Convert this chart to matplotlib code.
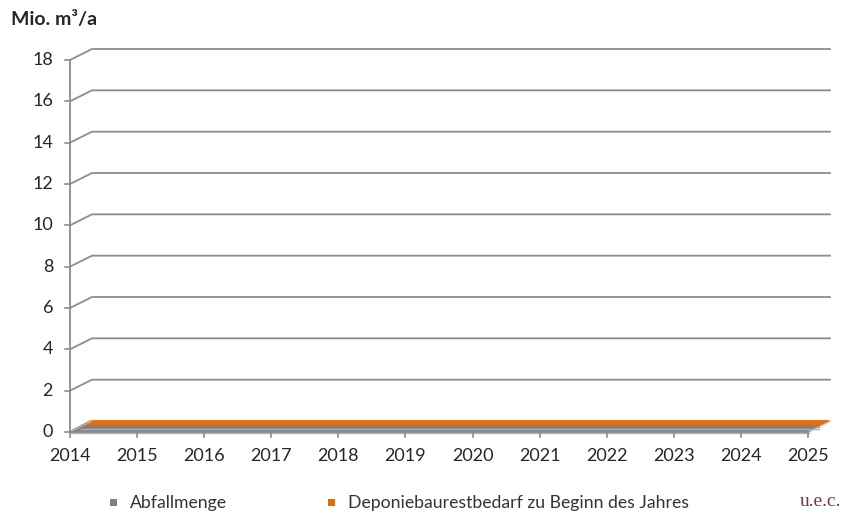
import numpy as np
import matplotlib.pyplot as plt
from matplotlib.patches import Polygon
from matplotlib.transforms import IdentityTransform

plt.rcParams['font.family'] = ['Lato', 'DejaVu Sans']

years = [2014, 2015, 2016, 2017, 2018, 2019, 2020, 2021, 2022, 2023, 2024, 2025]
abfallmenge = [0.02, 0.02, 0.02, 0.02, 0.02, 0.02, 0.02, 0.02, 0.02, 0.02, 0.02, 0.02]
deponiebaurestbedarf = [0.03, 0.03, 0.03, 0.03, 0.03, 0.03, 0.03, 0.03, 0.03, 0.03, 0.03, 0.03]
y_ticks = [0, 2, 4, 6, 8, 10, 12, 14, 16, 18]
series_names = ["Abfallmenge", "Deponiebaurestbedarf zu Beginn des Jahres"]
series_colors = ["#7f7f7f", "#e46c0a"]
unit_label = "Mio. m³/a"

W, H = 857, 515
fig = plt.figure(figsize=(W / 100, H / 100), dpi=100)
ax = fig.add_axes([70 / W, (H - 432) / H, (808 - 70) / W, (432 - 60) / H])
ax.set_xlim(years[0], years[-1])
ax.set_ylim(0, 18)
ax.axis('off')

# depth vector of the pseudo-3D chart, in pixels
DEPTH = np.array([22.0, 11.0])
grid_col = "#8c8c8c"
text_col = "#262626"


def proj(x, v, d):
    p = ax.transData.transform((x, v))
    return p + d * DEPTH


ident = IdentityTransform()

# back wall gridlines bent along the left side wall
for v in y_ticks[1:]:
    p0 = proj(years[0], v, 0)
    p1 = proj(years[0], v, 1)
    p2 = proj(years[-1], v, 1)
    pts = np.array([p0, p1, p2])
    fig.add_artist(plt.Line2D(pts[:, 0], pts[:, 1], transform=ident,
                              color=grid_col, lw=1.3))

# floor outline
for a, b in [((years[0], 0, 0), (years[0], 0, 1)),
             ((years[-1], 0, 0), (years[-1], 0, 1))]:
    pa, pb = proj(*a), proj(*b)
    fig.add_artist(plt.Line2D([pa[0], pb[0]], [pa[1], pb[1]], transform=ident,
                              color="#b0b0b0", lw=1.0))

# 3D area series: back series first, each occupying one depth slot
series = [abfallmenge, deponiebaurestbedarf]
slots = [(0.05, 0.5), (0.5, 0.95)]
for idx in [1, 0]:
    vals = series[idx]
    d0, d1 = slots[idx]
    col = series_colors[idx]
    front = [proj(x, v, d0) for x, v in zip(years, vals)]
    back = [proj(x, v, d1) for x, v in zip(years, vals)]
    top = np.array(front + back[::-1])
    fig.add_artist(Polygon(top, closed=True, transform=ident,
                           facecolor=col, edgecolor=col, lw=1.2))
    base_f = [proj(x, 0, d0) for x in years]
    face = np.array(front + base_f[::-1])
    fig.add_artist(Polygon(face, closed=True, transform=ident,
                           facecolor=col, edgecolor=col, lw=0.8))
    # light lower edge
    edge = np.array(base_f)
    fig.add_artist(plt.Line2D(edge[:, 0], edge[:, 1] - 2, transform=ident,
                              color="#a8b4c4", lw=1.0))

# front axes
pa, pb = proj(years[0], 0, 0), proj(years[0], 18, 0)
fig.add_artist(plt.Line2D([pa[0], pb[0]], [pa[1], pb[1]], transform=ident,
                          color=grid_col, lw=1.3))
pc = proj(years[-1], 0, 0)
fig.add_artist(plt.Line2D([pa[0], pc[0]], [pa[1], pc[1]], transform=ident,
                          color=grid_col, lw=1.3))

# y ticks and labels
for v in y_ticks:
    p = proj(years[0], v, 0)
    fig.add_artist(plt.Line2D([p[0] - 5, p[0]], [p[1], p[1]], transform=ident,
                              color=grid_col, lw=1.2))
    fig.text((p[0] - 17) / W, p[1] / H, str(v), ha='right', va='center',
             fontsize=13, color=text_col)

# x ticks and labels
for x in years:
    p = proj(x, 0, 0)
    fig.add_artist(plt.Line2D([p[0], p[0]], [p[1], p[1] - 5], transform=ident,
                              color=grid_col, lw=1.2))
    fig.text(p[0] / W, (p[1] - 24) / H, str(x), ha='center', va='center',
             fontsize=13, color=text_col)

# unit label
fig.text(11 / W, (H - 20) / H, unit_label, ha='left', va='center',
         fontsize=14, fontweight='bold', color=text_col)

# legend
leg_items = [(110, series_names[0], series_colors[0]),
             (328, series_names[1], series_colors[1])]
for xpx, name, col in leg_items:
    fig.add_artist(Polygon(np.array([[xpx, H - 499], [xpx + 7, H - 499],
                                     [xpx + 7, H - 506], [xpx, H - 506]]),
                           closed=True, transform=ident, facecolor=col,
                           edgecolor='none'))
    fig.text((xpx + 20) / W, (H - 503) / H, name, ha='left', va='center',
             fontsize=12.7, color="#333333")

# logo
fig.text(800 / W, (H - 501) / H, "u.e.c.", ha='left', va='center',
         fontsize=14, color="#7b3348", family=['Liberation Serif', 'DejaVu Serif'])

fig.savefig("out.png", dpi=100)
